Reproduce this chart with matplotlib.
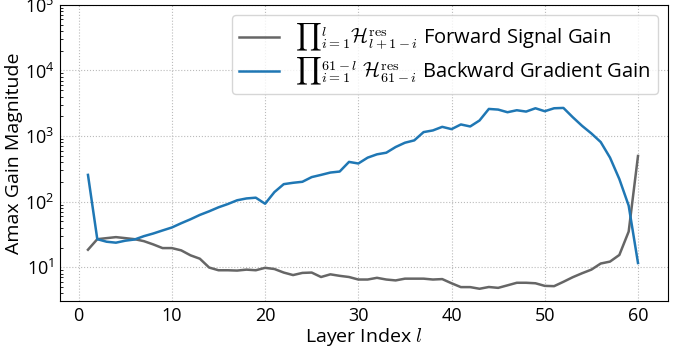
import numpy as np
import matplotlib
matplotlib.use("Agg")
import matplotlib.pyplot as plt

plt.rcParams['font.family'] = ['Open Sans', 'DejaVu Sans']
plt.rcParams['mathtext.fontset'] = 'cm'

layers = np.arange(1, 61)

forward_gain = [
    18.5, 26.8, 27.8, 28.8, 27.8, 26.8, 25.0, 22.3, 19.6, 19.6,
    18.1, 15.2, 13.5, 9.9, 9.0, 9.0, 8.9, 9.2, 9.0, 9.8,
    9.4, 8.3, 7.6, 8.2, 8.3, 7.1, 7.8, 7.4, 7.1, 6.5,
    6.5, 6.9, 6.5, 6.3, 6.7, 6.7, 6.7, 6.5, 6.6, 5.7,
    4.98, 4.98, 4.7, 5.0, 4.85, 5.3, 5.8, 5.8, 5.7, 5.2,
    5.15, 6.0, 7.05, 8.1, 9.2, 11.4, 12.2, 15.4, 35.0, 497.0,
]

backward_gain = [
    256, 26.8, 24.5, 23.7, 25.4, 26.5, 29.8, 32.7, 36.4, 40.4,
    46.9, 53.9, 62.8, 71.3, 82, 92, 105, 112, 115, 93,
    140, 185, 194, 201, 237, 256, 278, 288, 404, 382,
    469, 527, 558, 681, 792, 860, 1150, 1220, 1383, 1276,
    1504, 1402, 1729, 2594, 2536, 2310, 2477, 2364, 2656, 2393,
    2656, 2687, 1941, 1433, 1097, 811, 469, 221, 87, 11.6,
]

fig, ax = plt.subplots(figsize=(6.78, 3.51), dpi=100)

ax.plot(layers, forward_gain, color='#666666', lw=1.8,
        label=r'${\prod}_{i=1}^{l}\mathcal{H}_{l+1-i}^{\mathrm{res}}$ Forward Signal Gain')
ax.plot(layers, backward_gain, color='#1f77b4', lw=1.8,
        label=r'${\prod}_{i=1}^{61-l}\ \mathcal{H}_{61-i}^{\mathrm{res}}$ Backward Gradient Gain')

ax.set_yscale('log')
ax.set_ylim(3.06, 1e5)
ax.set_xlim(-2.0, 63.2)
ax.grid(True, which='major', linestyle=':', color='#bbbbbb', lw=0.8)
ax.set_xlabel(r'Layer Index $l$', fontsize=14, labelpad=1)
ax.set_ylabel('Amax Gain Magnitude', fontsize=14, labelpad=1)
ax.tick_params(axis='both', labelsize=13, length=0, pad=4)
ax.tick_params(axis='y', which='minor', length=2, direction='in')
ax.legend(loc='upper right', fontsize=14.5, handlelength=2.0,
          borderaxespad=0.5, labelspacing=0.15, borderpad=0.35)

fig.subplots_adjust(left=0.0885, right=0.985, top=0.986, bottom=0.1425)
fig.savefig('out.png')
